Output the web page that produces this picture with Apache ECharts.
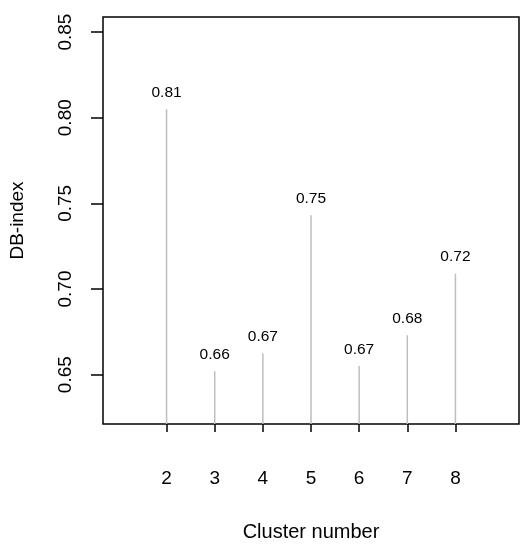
<!DOCTYPE html>
<html>
<head>
<meta charset="utf-8">
<script src="https://cdn.jsdelivr.net/npm/echarts@6/dist/echarts.min.js"></script>
<style>html,body{margin:0;padding:0;background:#fff;}#c{width:531px;height:550px;}</style>
</head>
<body>
<div id="c"></div>
<script>
// Data
var clusters = [2, 3, 4, 5, 6, 7, 8];
var dbIndex = [0.805, 0.652, 0.6625, 0.743, 0.655, 0.673, 0.709];
var valueLabels = ['0.81', '0.66', '0.67', '0.75', '0.67', '0.68', '0.72'];
var yTicks = [0.65, 0.70, 0.75, 0.80, 0.85];
var xTicks = [2, 3, 4, 5, 6, 7, 8];

var X_MIN = 0.68, X_MAX = 9.32;
var Y_MIN = 0.6212, Y_MAX = 0.8588;
var FONT = '"Liberation Sans", Arial, sans-serif';

var chart = echarts.init(document.getElementById('c'));
chart.setOption({
  animation: false,
  backgroundColor: '#fff',
  grid: {
    show: true, borderColor: '#000', borderWidth: 1.5,
    left: 103, top: 17, width: 416, height: 407, containLabel: false
  },
  xAxis: {
    type: 'value', min: X_MIN, max: X_MAX,
    name: 'Cluster number', nameLocation: 'middle', nameGap: 98,
    nameTextStyle: { fontSize: 20, color: '#000', fontFamily: FONT },
    axisLine: { show: false, onZero: false },
    splitLine: { show: false },
    axisTick: { show: true, length: 8, customValues: xTicks, lineStyle: { color: '#000', width: 1.5 } },
    axisLabel: { customValues: xTicks, margin: 45, fontSize: 19, color: '#000', fontFamily: FONT }
  },
  yAxis: {
    type: 'value', min: Y_MIN, max: Y_MAX,
    name: 'DB-index', nameLocation: 'middle', nameRotate: 90, nameGap: 76,
    nameTextStyle: { fontSize: 19, color: '#000', fontFamily: FONT },
    axisLine: { show: false, onZero: false },
    splitLine: { show: false },
    axisTick: { show: true, length: 12, customValues: yTicks, lineStyle: { color: '#000', width: 1.5 } },
    axisLabel: {
      customValues: yTicks, rotate: 90, margin: 28, fontSize: 19, color: '#000', fontFamily: FONT,
      formatter: function (v) { return Number(v).toFixed(2); }
    }
  },
  series: [{
    type: 'custom',
    data: clusters.map(function (c, i) { return [c, dbIndex[i]]; }),
    renderItem: function (params, api) {
      var x = api.value(0), y = api.value(1);
      var top = api.coord([x, y]);
      var bottom = api.coord([x, Y_MIN]);
      return {
        type: 'group',
        children: [
          { type: 'line', shape: { x1: top[0], y1: bottom[1], x2: top[0], y2: top[1] },
            style: { stroke: '#bebebe', lineWidth: 1.5 } },
          { type: 'text', x: top[0], y: top[1] - 16.5,
            style: { text: valueLabels[params.dataIndex], fill: '#000', fontSize: 15.5,
                     fontFamily: FONT, align: 'center', verticalAlign: 'middle' } }
        ]
      };
    }
  }]
});
</script>
</body>
</html>
